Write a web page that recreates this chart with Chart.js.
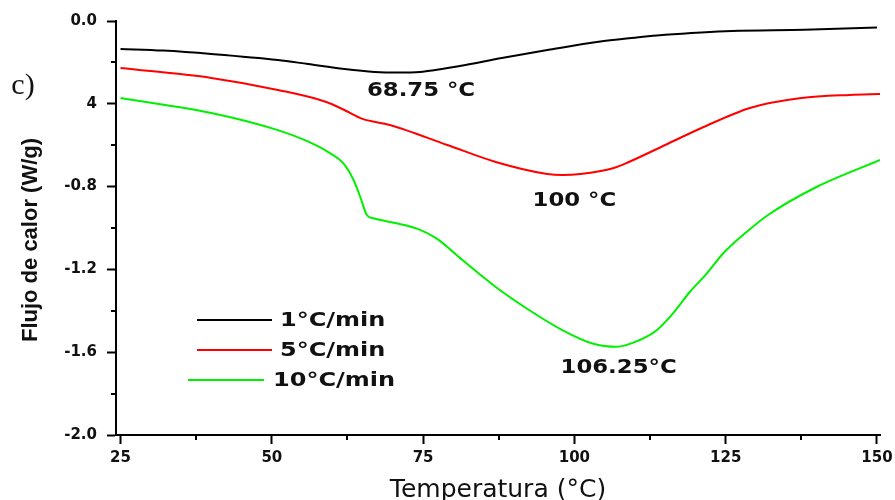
<!DOCTYPE html>
<html>
<head>
<meta charset="utf-8">
<script src="https://cdn.jsdelivr.net/npm/chart.js@4.4.1/dist/chart.umd.min.js"></script>
<style>
  html, body { margin: 0; padding: 0; background: #fff; }
</style>
</head>
<body>
<canvas id="myChart" width="895" height="500"></canvas>
<script>
var seriesLabels = ['1°C/min', '5°C/min', '10°C/min'];
var seriesColors = ['#000000', '#ff0000', '#00f000'];

// 1 °C/min
var temp1 = [25, 32, 40, 51, 56, 62, 67, 71, 74.5, 77, 82, 88, 96, 104, 110, 115, 121, 126, 138, 150];
var flow1 = [-0.135, -0.143, -0.159, -0.188, -0.208, -0.232, -0.246, -0.249, -0.246, -0.237, -0.213, -0.179, -0.138, -0.100, -0.081, -0.067, -0.055, -0.048, -0.042, -0.032];

// 5 °C/min
var temp5 = [25, 40, 51, 59, 62, 65, 69.5, 79, 87, 95.5, 98, 101, 106.5, 109, 115, 121, 129, 137.5, 145.5, 150.5];
var flow5 = [-0.227, -0.275, -0.333, -0.391, -0.430, -0.473, -0.502, -0.599, -0.681, -0.739, -0.744, -0.739, -0.710, -0.681, -0.599, -0.517, -0.420, -0.372, -0.357, -0.353];

// 10 °C/min
var temp10 = [25, 40, 51, 56.5, 59.6, 61.8, 63.5, 64.6, 65.7, 66.8, 70.6, 74, 77.2, 81.5, 87, 92.5, 98, 103, 107, 110.8, 113.6, 116.3, 119.1, 121.9, 124.6, 128.5, 132, 140, 150.5];
var flow10 = [-0.372, -0.444, -0.527, -0.589, -0.638, -0.687, -0.768, -0.849, -0.937, -0.953, -0.977, -1.003, -1.050, -1.155, -1.285, -1.396, -1.493, -1.558, -1.574, -1.541, -1.494, -1.412, -1.308, -1.219, -1.122, -1.018, -0.937, -0.802, -0.671];

var xTicks = [25, 50, 75, 100, 125, 150];
var xMinor = [37.5, 62.5, 87.5, 112.5, 137.5];
var yTicks = [0, -0.4, -0.8, -1.2, -1.6, -2.0];
var yTickLabels = ['0.0', '4', '-0.8', '-1.2', '-1.6', '-2.0'];
var yMinor = [-0.2, -0.6, -1.0, -1.4, -1.8];
var peakLabels = ['68.75 °C', '100 °C', '106.25°C'];

function toPoints(xs, ys) {
    return xs.map(function (x, i) { return { x: x, y: ys[i] }; });
}

function stretchText(ctx, text, x, y, sx, align) {
    ctx.save();
    ctx.translate(x, y);
    ctx.scale(sx, 1);
    ctx.textAlign = align;
    ctx.textBaseline = 'middle';
    ctx.fillText(text, 0, 0);
    ctx.restore();
}

var extras = {
    id: 'extras',
    afterDraw: function (chart) {
        var ctx = chart.ctx;
        var xs = chart.scales.x, ys = chart.scales.y;
        var area = chart.chartArea;
        ctx.save();

        // minor ticks
        ctx.strokeStyle = '#000';
        ctx.lineWidth = 2;
        ctx.beginPath();
        xMinor.forEach(function (v) {
            var px = Math.round(xs.getPixelForValue(v));
            ctx.moveTo(px, area.bottom);
            ctx.lineTo(px, area.bottom + 5);
        });
        yMinor.forEach(function (v) {
            var py = Math.round(ys.getPixelForValue(v));
            ctx.moveTo(area.left, py);
            ctx.lineTo(area.left - 5, py);
        });
        ctx.stroke();

        ctx.fillStyle = '#111';

        // y title
        ctx.save();
        ctx.translate(31, 240);
        ctx.rotate(-Math.PI / 2);
        ctx.font = 'bold 22px "Liberation Sans", Arial, sans-serif';
        ctx.textAlign = 'center';
        ctx.textBaseline = 'middle';
        ctx.fillText('Flujo de calor (W/g)', 0, 0);
        ctx.restore();

        // panel letter
        ctx.font = '30px "Liberation Serif", "Times New Roman", serif';
        stretchText(ctx, 'c)', 23, 86, 1, 'center');

        // peak labels
        ctx.font = 'bold 20px "DejaVu Sans", sans-serif';
        stretchText(ctx, peakLabels[0], xs.getPixelForValue(74.65), ys.getPixelForValue(-0.331) + 1, 1.14, 'center');
        stretchText(ctx, peakLabels[1], xs.getPixelForValue(100), ys.getPixelForValue(-0.865) + 1, 1.14, 'center');
        stretchText(ctx, peakLabels[2], xs.getPixelForValue(107.3), ys.getPixelForValue(-1.671) + 1, 1.14, 'center');

        // legend
        var rows = [
            { y: 320, x0: 197, x1: 272, tx: 280 },
            { y: 350, x0: 197, x1: 272, tx: 280 },
            { y: 380, x0: 188, x1: 264, tx: 273 }
        ];
        chart.data.datasets.forEach(function (ds, i) {
            var r = rows[i];
            ctx.strokeStyle = ds.borderColor;
            ctx.lineWidth = 2;
            ctx.beginPath();
            ctx.moveTo(r.x0, r.y);
            ctx.lineTo(r.x1, r.y);
            ctx.stroke();
            ctx.fillStyle = '#111';
            stretchText(ctx, ds.label, r.tx, r.y + 1, 1.2, 'left');
        });

        ctx.restore();
    }
};

new Chart('myChart', {
    type: 'line',
    data: {
        datasets: [{
            label: seriesLabels[0],
            data: toPoints(temp1, flow1),
            borderColor: seriesColors[0]
        }, {
            label: seriesLabels[1],
            data: toPoints(temp5, flow5),
            borderColor: seriesColors[1]
        }, {
            label: seriesLabels[2],
            data: toPoints(temp10, flow10),
            borderColor: seriesColors[2]
        }]
    },
    options: {
        responsive: false,
        animation: false,
        devicePixelRatio: 1,
        layout: { padding: { left: 0, top: 21, right: 15, bottom: 0 } },
        elements: {
            point: { radius: 0 },
            line: { borderWidth: 2, fill: false, cubicInterpolationMode: 'monotone' }
        },
        plugins: {
            legend: { display: false },
            tooltip: { enabled: false }
        },
        scales: {
            x: {
                type: 'linear',
                min: 24.25,
                max: 150.5,
                afterBuildTicks: function (s) {
                    s.ticks = xTicks.map(function (v) { return { value: v }; });
                },
                afterFit: function (s) {
                    s.height = 65;
                    s.paddingLeft = 0;
                    s.paddingRight = 0;
                },
                grid: { drawOnChartArea: false, drawTicks: true, tickLength: 9, tickWidth: 2, tickColor: '#000' },
                border: { display: true, color: '#000', width: 2 },
                ticks: {
                    color: '#111',
                    padding: 5,
                    maxRotation: 0,
                    autoSkip: false,
                    font: { family: 'DejaVu Sans', size: 15, weight: 'bold' },
                    callback: function (v) { return String(v); }
                },
                title: {
                    display: true,
                    text: 'Temperatura (°C)',
                    color: '#111',
                    font: { family: 'DejaVu Sans', size: 25, weight: 'normal' },
                    padding: { top: 0, bottom: -5 }
                }
            },
            y: {
                type: 'linear',
                min: -2,
                max: 0,
                afterBuildTicks: function (s) {
                    s.ticks = yTicks.map(function (v) { return { value: v }; });
                },
                afterFit: function (s) {
                    s.width = 116;
                    s.paddingTop = 0;
                    s.paddingBottom = 0;
                },
                grid: { drawOnChartArea: false, drawTicks: true, tickLength: 9, tickWidth: 2, tickColor: '#000' },
                border: { display: true, color: '#000', width: 2 },
                ticks: {
                    color: '#111',
                    padding: 10,
                    autoSkip: false,
                    font: { family: 'DejaVu Sans', size: 15, weight: 'bold' },
                    callback: function (v) {
                        var k = yTicks.indexOf(v);
                        return k >= 0 ? yTickLabels[k] : '';
                    }
                }
            }
        }
    },
    plugins: [extras]
});
</script>
</body>
</html>
